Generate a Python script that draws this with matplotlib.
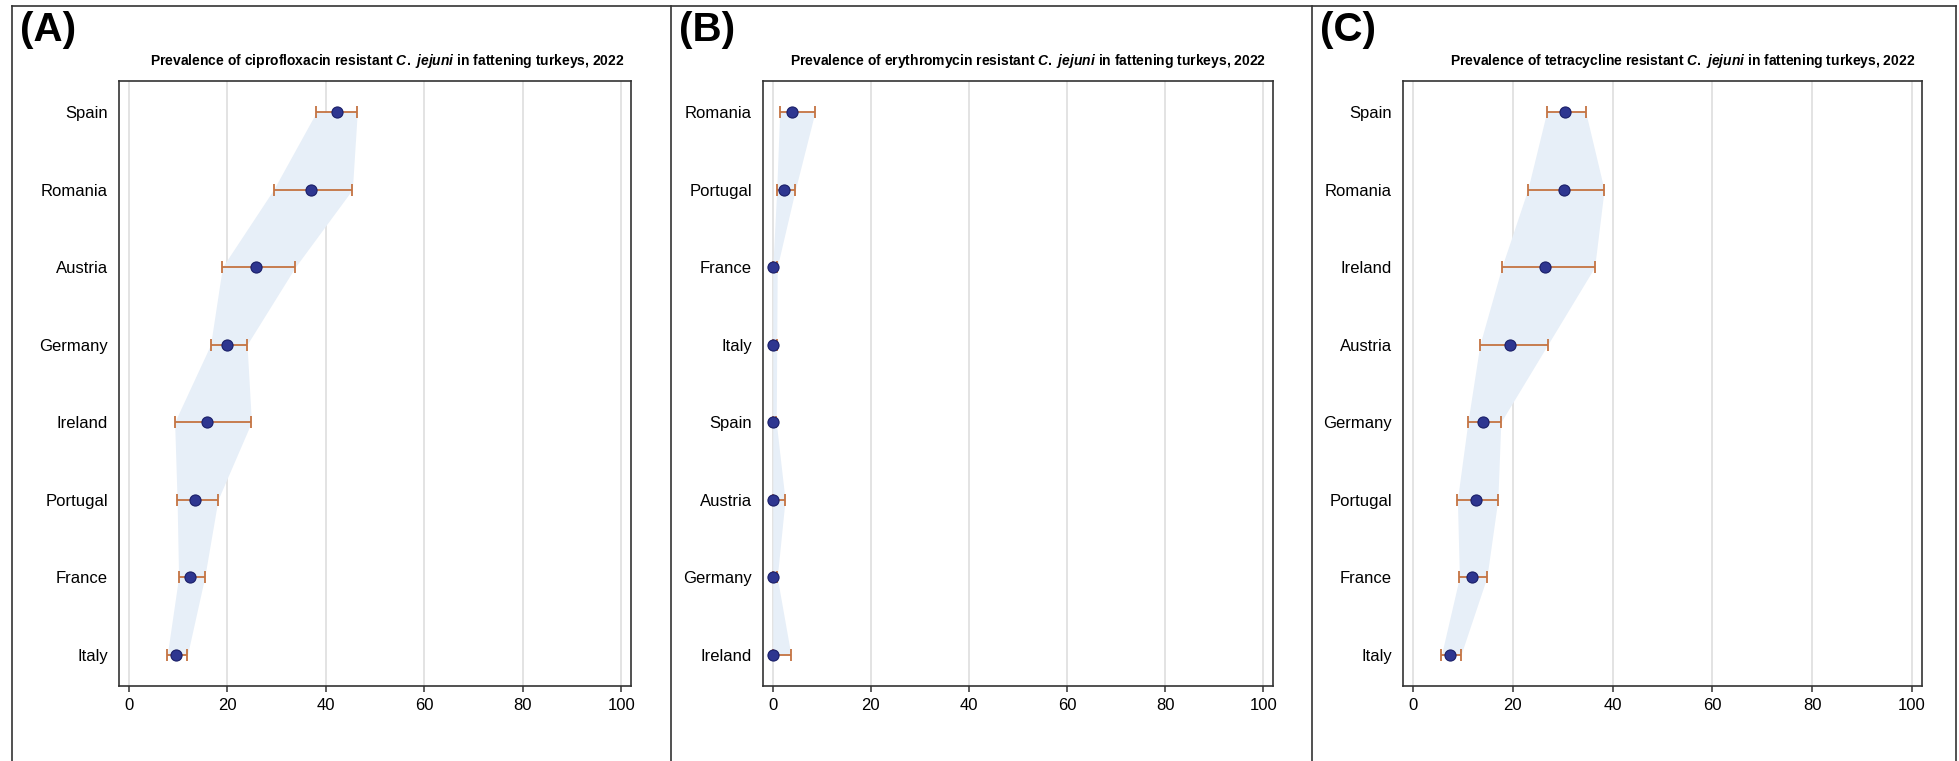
import matplotlib
matplotlib.use("Agg")
import matplotlib.pyplot as plt
from matplotlib.lines import Line2D

plt.rcParams['font.family'] = ['Liberation Sans', 'DejaVu Sans']
plt.rcParams['mathtext.fontset'] = 'custom'
plt.rcParams['mathtext.it'] = 'Liberation Sans:italic:bold'
plt.rcParams['mathtext.rm'] = 'Liberation Sans:bold'

# --- data: prevalence (%) with 95% CI, countries listed top to bottom ---
cipro_countries = ["Spain", "Romania", "Austria", "Germany", "Ireland", "Portugal", "France", "Italy"]
cipro_value = [42.3, 37.0, 25.8, 20.0, 15.9, 13.5, 12.5, 9.6]
cipro_low = [38.1, 29.4, 19.0, 16.6, 9.3, 9.8, 10.1, 7.8]
cipro_high = [46.4, 45.4, 33.8, 24.0, 24.9, 18.1, 15.4, 11.9]

ery_countries = ["Romania", "Portugal", "France", "Italy", "Spain", "Austria", "Germany", "Ireland"]
ery_value = [4.0, 2.2, 0.0, 0.0, 0.0, 0.0, 0.0, 0.0]
ery_low = [1.4, 0.8, 0.0, 0.0, 0.0, 0.0, 0.0, 0.0]
ery_high = [8.6, 4.6, 0.9, 0.8, 0.7, 2.5, 0.9, 3.7]

tetra_countries = ["Spain", "Romania", "Ireland", "Austria", "Germany", "Portugal", "France", "Italy"]
tetra_value = [30.5, 30.3, 26.4, 19.4, 14.0, 12.6, 11.8, 7.5]
tetra_low = [26.8, 23.0, 17.8, 13.4, 11.0, 8.9, 9.3, 5.7]
tetra_high = [34.6, 38.3, 36.4, 27.0, 17.6, 17.0, 14.8, 9.6]

panel_labels = ["(A)", "(B)", "(C)"]
drugs = ["ciprofloxacin", "erythromycin", "tetracycline"]
xticks = [0, 20, 40, 60, 80, 100]

W, H = 1959, 761
fig = plt.figure(figsize=(W / 100, H / 100), dpi=100)

# axes boxes in pixels: left, right
axes_px = [(119, 631), (763, 1273), (1403, 1922)]
ax_top, ax_bot = 81, 686
panel_left = [12, 671, 1312]

BAND = "#e7eff8"
ERR = "#c47342"
DOT = "#2e3690"
DOT_EDGE = "#1a1f68"

series = [
    (cipro_countries, cipro_value, cipro_low, cipro_high),
    (ery_countries, ery_value, ery_low, ery_high),
    (tetra_countries, tetra_value, tetra_low, tetra_high),
]

for i, (countries, val, lo, hi) in enumerate(series):
    l, r = axes_px[i]
    ax = fig.add_axes([l / W, 1 - ax_bot / H, (r - l) / W, (ax_bot - ax_top) / H])
    y = list(range(len(countries)))

    ax.fill_betweenx(y, lo, hi, color=BAND, lw=0, zorder=1)
    xerr = [[v - a for v, a in zip(val, lo)], [b - v for v, b in zip(val, hi)]]
    ax.errorbar(val, y, xerr=xerr, fmt='none', ecolor=ERR, elinewidth=1.3,
                capsize=4.5, capthick=1.3, zorder=3)
    ax.plot(val, y, 'o', ms=8, mfc=DOT, mec=DOT_EDGE, mew=0.8, zorder=4)

    ax.set_xlim(-2, 102)
    ax.set_ylim(len(countries) - 0.6, -0.4)
    ax.set_xticks(xticks)
    ax.set_yticks(y)
    ax.set_yticklabels(countries)
    ax.grid(axis='x', color='#dedede', lw=1.2, zorder=0)
    ax.set_axisbelow(True)
    for s in ax.spines.values():
        s.set_color('#333333')
        s.set_linewidth(1.2)
    ax.tick_params(axis='x', length=4, width=1.1, color='#333333', labelsize=12, pad=5)
    ax.tick_params(axis='y', length=0, labelsize=12, pad=8)

    title = ("Prevalence of %s resistant $\\mathit{C.\\ jejuni}$ in fattening turkeys, 2022"
             % drugs[i])
    ax.text(1 - 7 / (r - l), 1 + 16 / (ax_bot - ax_top), title, transform=ax.transAxes,
            fontsize=10, fontweight='bold', ha='right', va='baseline')

    fig.text((panel_left[i] + 8) / W, 1 - 11 / H, panel_labels[i], fontsize=29,
             fontweight='bold', va='top', ha='left')

# panel frames
frame = dict(color='#333333', lw=1.2)
fig.add_artist(Line2D([12 / W, 1956 / W], [1 - 6 / H, 1 - 6 / H], **frame))
for xp in [12, 671, 1312, 1956]:
    fig.add_artist(Line2D([xp / W, xp / W], [0, 1 - 6 / H], **frame))

fig.savefig("out.png", dpi=100)
